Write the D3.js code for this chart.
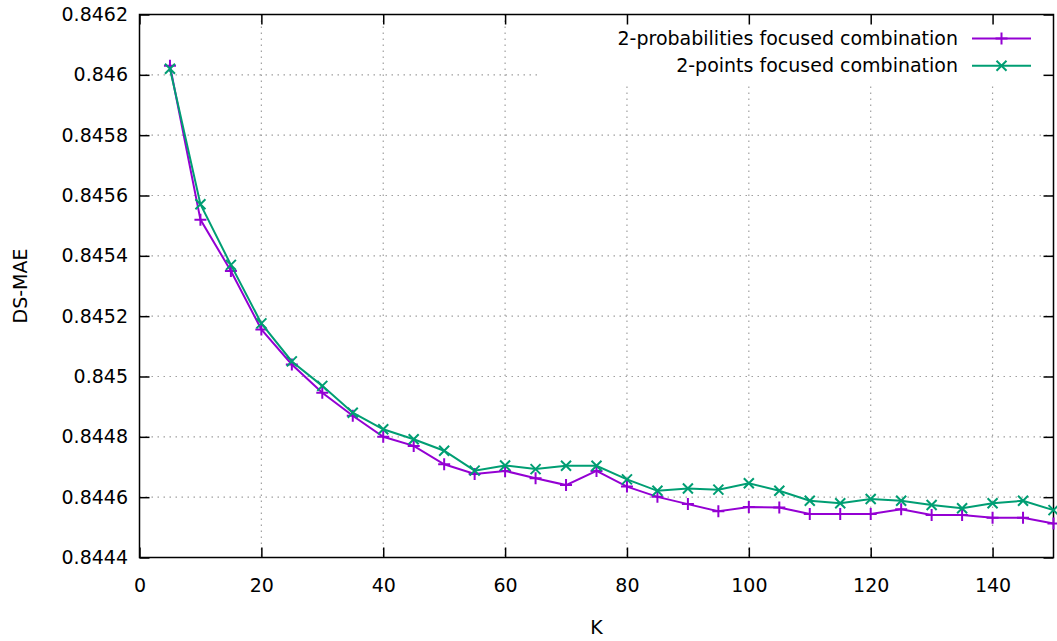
<!DOCTYPE html>
<head>
  <meta charset="utf-8" />
  <script src="https://d3js.org/d3.v7.min.js"></script>
  <style>
    body { margin: 0; background: #fff; }
    text { font-family: "DejaVu Sans", sans-serif; font-size: 19px; fill: #000; }
    .grid line { stroke: #a0a0a0; stroke-width: 1.2; stroke-dasharray: 1.5,4.5; }
  </style>
</head>
<body>
<script>
// K values
var kValues = [5, 10, 15, 20, 25, 30, 35, 40, 45, 50, 55, 60, 65, 70, 75,
               80, 85, 90, 95, 100, 105, 110, 115, 120, 125, 130, 135, 140, 145, 150];

// 2-probabilities focused combination
var probValues = [0.84603, 0.84552, 0.84535, 0.845156, 0.84504, 0.844946, 0.84487, 0.8448, 0.84477, 0.844709,
                  0.844677, 0.844687, 0.844663, 0.84464, 0.844687, 0.844635, 0.844601, 0.844577, 0.844553, 0.844567,
                  0.844566, 0.844544, 0.844544, 0.844544, 0.84456, 0.844541, 0.844541, 0.844532, 0.844532, 0.844513];

// 2-points focused combination
var pointValues = [0.84602, 0.845571, 0.84537, 0.845176, 0.84505, 0.844969, 0.84488, 0.844825, 0.844792, 0.844754,
                   0.844688, 0.844705, 0.844693, 0.844704, 0.844704, 0.844659, 0.844621, 0.844629, 0.844625, 0.844646,
                   0.844621, 0.844588, 0.84458, 0.844594, 0.844588, 0.844574, 0.844563, 0.84458, 0.844588, 0.844557];

var xTicks = [0, 20, 40, 60, 80, 100, 120, 140];
var yTicks = [0.8444, 0.8446, 0.8448, 0.845, 0.8452, 0.8454, 0.8456, 0.8458, 0.846, 0.8462];

var seriesNames = ["2-probabilities focused combination", "2-points focused combination"];
var seriesColors = ["#9400d3", "#009e73"];

var width = 1057, height = 641;
var margin = {left: 139.5, right: 3.5, top: 14.5, bottom: 83.5};
var w = width - margin.left - margin.right;
var h = height - margin.top - margin.bottom;

var svg = d3.select("body").append("svg")
  .attr("width", width)
  .attr("height", height);

var g = svg.append("g").attr("transform", "translate(" + margin.left + "," + margin.top + ")");

var x = d3.scaleLinear().domain([0, 150]).range([0, w]);
var y = d3.scaleLinear().domain([0.8444, 0.8462]).range([h, 0]);

// grille pointillee
var grid = g.append("g").attr("class", "grid");
grid.selectAll(".gx").data(xTicks.filter(function (d) { return d > 0; }))
  .join("line").attr("class", "gx")
  .attr("x1", function (d) { return x(d); }).attr("x2", function (d) { return x(d); })
  .attr("y1", 0).attr("y2", h);
grid.selectAll(".gy").data(yTicks.slice(1, -1))
  .join("line").attr("class", "gy")
  .attr("x1", 0).attr("x2", w)
  .attr("y1", function (d) { return y(d); }).attr("y2", function (d) { return y(d); });

// zone de la legende (gnuplot n'y dessine pas la grille)
g.append("rect")
  .attr("x", 540 - margin.left).attr("y", 0)
  .attr("width", w - (540 - margin.left)).attr("height", 83 - margin.top)
  .attr("fill", "#fff");

// axes, ticks vers l'interieur + miroir
var fmt = d3.format("~g");
function styleAxis(sel) {
  sel.select(".domain").remove();
  sel.selectAll(".tick line").attr("stroke", "#000").attr("stroke-width", 1.5);
  sel.selectAll(".tick text").style("font-family", "DejaVu Sans").style("font-size", "19px").attr("fill", "#000");
}
g.append("g").attr("transform", "translate(0," + h + ")")
  .call(d3.axisBottom(x).tickValues(xTicks).tickSize(-10).tickPadding(21).tickFormat(fmt))
  .call(styleAxis);
g.append("g")
  .call(d3.axisTop(x).tickValues(xTicks).tickSize(-10).tickFormat(""))
  .call(styleAxis);
g.append("g")
  .call(d3.axisLeft(y).tickValues(yTicks).tickSize(-10).tickPadding(11.5).tickFormat(fmt))
  .call(styleAxis);
g.append("g").attr("transform", "translate(" + w + ",0)")
  .call(d3.axisRight(y).tickValues(yTicks).tickSize(-10).tickFormat(""))
  .call(styleAxis);

g.append("rect")
  .attr("width", w).attr("height", h)
  .attr("fill", "none").attr("stroke", "#000").attr("stroke-width", 1.5);

// courbes
var series = [probValues, pointValues];
var line = d3.line()
  .x(function (d, i) { return x(kValues[i]); })
  .y(function (d) { return y(d); });

function plusPath(cx, cy, r) {
  return "M" + (cx - r) + "," + cy + "H" + (cx + r) + "M" + cx + "," + (cy - r) + "V" + (cy + r);
}
function crossPath(cx, cy, r) {
  return "M" + (cx - r) + "," + (cy - r) + "L" + (cx + r) + "," + (cy + r) +
         "M" + (cx - r) + "," + (cy + r) + "L" + (cx + r) + "," + (cy - r);
}
var markers = [plusPath, crossPath];

series.forEach(function (vals, s) {
  g.append("path")
    .datum(vals)
    .attr("fill", "none")
    .attr("stroke", seriesColors[s])
    .attr("stroke-width", 2)
    .attr("d", line);
  g.append("g").selectAll("path")
    .data(vals)
    .join("path")
    .attr("fill", "none")
    .attr("stroke", seriesColors[s])
    .attr("stroke-width", 2)
    .attr("d", function (d, i) { return markers[s](x(kValues[i]), y(d), s == 0 ? 6 : 5); });
});

// legende
var key = svg.append("g");
seriesNames.forEach(function (name, s) {
  var ly = 38.5 + s * 27.3;
  key.append("text")
    .attr("x", 958).attr("y", ly).attr("dy", "0.35em")
    .attr("text-anchor", "end")
    .text(name);
  key.append("line")
    .attr("x1", 972).attr("x2", 1031).attr("y1", ly).attr("y2", ly)
    .attr("stroke", seriesColors[s]).attr("stroke-width", 2);
  key.append("path")
    .attr("fill", "none").attr("stroke", seriesColors[s]).attr("stroke-width", 2)
    .attr("d", markers[s](1001.5, ly, s == 0 ? 6 : 5));
});

// titres des axes
svg.append("text")
  .attr("x", margin.left + w / 2).attr("y", 634)
  .attr("text-anchor", "middle")
  .text("K");
svg.append("text")
  .attr("transform", "translate(20," + (margin.top + h / 2) + ") rotate(-90)")
  .attr("text-anchor", "middle").attr("dy", "0.35em")
  .text("DS-MAE");
</script>
</body>
